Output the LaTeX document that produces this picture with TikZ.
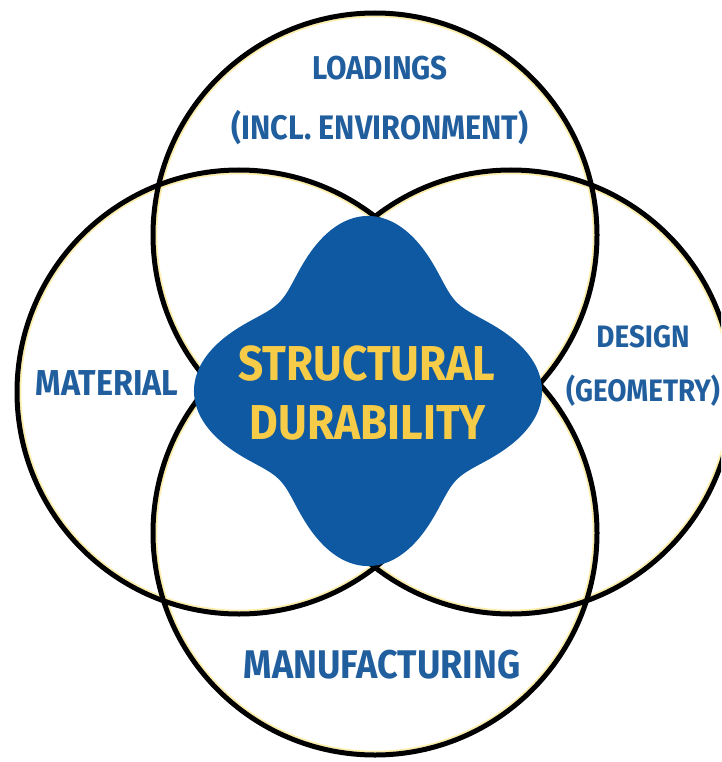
\documentclass[tikz,border=0pt]{standalone}
\usepackage{fontspec}
\setmainfont{Fira Sans}
\newfontfamily\labfont[FakeStretch=0.9]{Fira Sans}
\definecolor{blobblue}{RGB}{14,89,162}
\definecolor{labblue}{RGB}{32,94,158}
\definecolor{goldtext}{RGB}{246,203,72}
\definecolor{halocol}{RGB}{252,238,170}
\begin{document}
\begin{tikzpicture}[x=1pt,y=-1pt,
  ring/.style={draw=black,line width=5pt},
  halo/.style={draw=halocol,line width=1.8pt},
  lab/.style={text=labblue,inner sep=0pt,anchor=base},
  labfs/.style={font=\labfont\bfseries\fontsize{#1}{#1}\selectfont},
  core/.style={text=goldtext,font=\labfont\bfseries\fontsize{49}{58}\selectfont,inner sep=0pt,anchor=base},
  declare function={
    ra(\t)=1/sqrt((cos(\t)/1.74)^2+(sin(\t)/0.94)^2);
    rb(\t)=1/sqrt((cos(\t)/0.94)^2+(sin(\t)/1.75)^2);
    rr(\t)=100*(ra(\t)^10+rb(\t)^10)^(1/10);
  }]
\useasboundingbox (0,0) rectangle (721,762);
\fill[white] (0,0) rectangle (721,762);
\clip (0,0) rectangle (721,762);
% circle centres
\coordinate (cT) at (375,235);
\coordinate (cB) at (375,533);
\coordinate (cL) at (239,392);
\coordinate (cR) at (511,392);
% halos then rings
\foreach \c in {cT,cB,cL,cR}
  \draw[halo] (\c) circle[radius=218.6];
\foreach \c in {cT,cB,cL,cR}
  \draw[ring] (\c) circle[radius=222];
% central blob
\fill[blobblue] plot[domain=0:360,samples=361,variable=\t]
  ({368+rr(\t)*cos(\t)},{391+rr(\t)*sin(\t)}) -- cycle;
% texts
\node[core] (s1) at (367,380) {STRUCTURAL};
\node[core] (s2) at (368,439) {DURABILITY};
\node[lab,labfs=33] (l1) at (380,80) {LOADINGS};
\node[lab,labfs=34] (l2) at (380,140) {(INCL. ENVIRONMENT)};
\node[lab,labfs=36] (m1) at (107,395) {MATERIAL};
\node[lab,labfs=31] (d1) at (643,347) {DESIGN};
\node[lab,labfs=31] (d2) at (643,401) {(GEOMETRY)};
\node[lab,labfs=40] (f1) at (382,678) {MANUFACTURING};
\end{tikzpicture}
\end{document}
